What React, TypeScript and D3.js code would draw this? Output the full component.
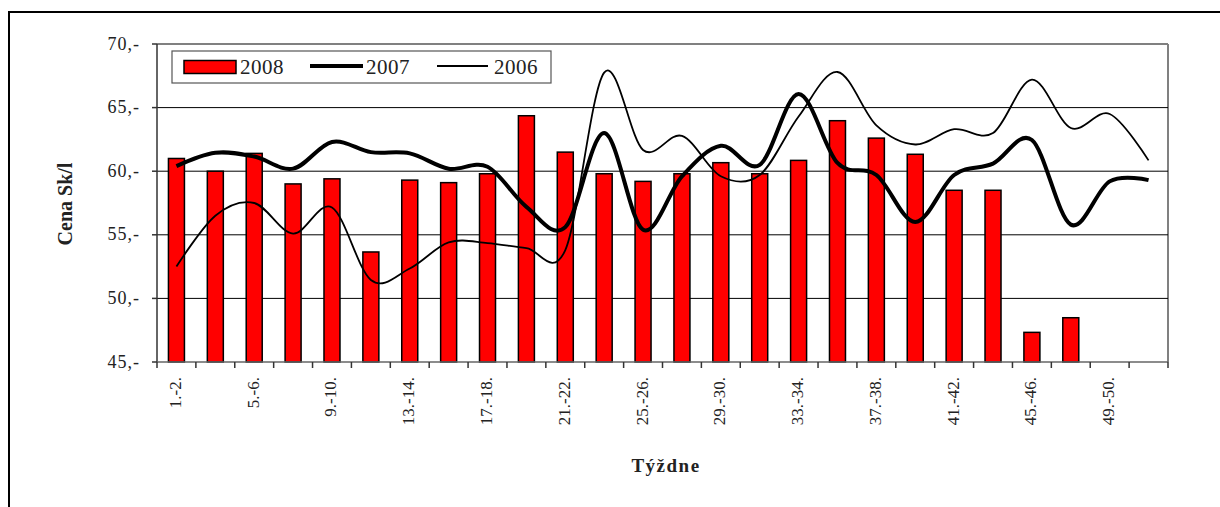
import React from "react";
import * as d3 from "d3";

const categories = Array.from({ length: 26 }, (_, i) => `${2 * i + 1}.-${2 * i + 2}.`);
const tickLabels = ["45,-", "50,-", "55,-", "60,-", "65,-", "70,-"];
const tickValues = [45, 50, 55, 60, 65, 70];

const values2008: (number | null)[] = [
  61.0, 60.0, 61.4, 59.0, 59.4, 53.65, 59.3, 59.1, 59.8, 64.36, 61.5, 59.8, 59.2,
  59.8, 60.67, 59.8, 60.85, 63.97, 62.6, 61.33, 58.5, 58.5, 47.33, 48.48, null, null,
];
const values2007 = [
  60.4, 61.45, 61.15, 60.2, 62.3, 61.5, 61.4, 60.2, 60.35, 57.2, 55.6, 63.0, 55.4,
  59.6, 62.0, 60.5, 66.07, 60.65, 59.7, 56.0, 59.7, 60.6, 62.45, 55.8, 59.2, 59.3,
];
const values2006 = [
  52.5, 56.5, 57.5, 55.1, 57.15, 51.45, 52.35, 54.4, 54.35, 53.95, 53.8, 67.75, 61.67,
  62.77, 59.6, 59.7, 64.3, 67.8, 63.6, 62.1, 63.3, 63.0, 67.2, 63.4, 64.5, 60.85,
];

const W = 1220;
const H = 507;
const L = 157;
const R = 1168;
const T = 44;
const B = 362;
const FONT = "'Liberation Serif', 'Times New Roman', serif";

export default function App() {
  const x = d3.scaleBand<string>().domain(categories).range([L, R]).padding(0);
  const y = d3.scaleLinear().domain([45, 70]).range([B, T]);
  const bw = 16;
  const cx = (i: number) => (x(categories[i]) as number) + x.bandwidth() / 2;
  const line = d3
    .line<number>()
    .x((_, i) => cx(i))
    .y((d) => y(d))
    .curve(d3.curveCardinal.tension(0));

  return (
    <svg
      width={W}
      height={H}
      style={{ position: "absolute", left: 0, top: 0, background: "#fff" }}
      fontFamily={FONT}
    >
      <rect x={0} y={0} width={W} height={H} fill="#fff" />
      <rect x={9} y={12} width={W + 20} height={H + 20} fill="none" stroke="#000" strokeWidth={2} />
      {/* plot frame */}
      <line x1={L} x2={R} y1={T} y2={T} stroke="#808080" strokeWidth={2} />
      <line x1={R} x2={R} y1={T} y2={B} stroke="#808080" strokeWidth={2} />
      {/* grid */}
      {tickValues.slice(1, 5).map((v) => (
        <line key={v} x1={L} x2={R} y1={y(v)} y2={y(v)} stroke="#000" strokeWidth={1} />
      ))}
      {/* bars */}
      {values2008.map((v, i) =>
        v == null ? null : (
          <rect
            key={i}
            x={cx(i) - bw / 2}
            y={y(v)}
            width={bw}
            height={B - y(v)}
            fill="#ff0000"
            stroke="#000"
            strokeWidth={1.5}
          />
        )
      )}
      {/* lines */}
      <path d={line(values2006) || ""} fill="none" stroke="#000" strokeWidth={1.8} />
      <path d={line(values2007) || ""} fill="none" stroke="#000" strokeWidth={4} />
      {/* axes */}
      <line x1={L} x2={L} y1={T} y2={B} stroke="#333" strokeWidth={1.5} />
      <line x1={L} x2={R} y1={B} y2={B} stroke="#666" strokeWidth={1.5} />
      {tickValues.map((v, i) => (
        <g key={v}>
          <line x1={L - 5} x2={L} y1={y(v)} y2={y(v)} stroke="#333" strokeWidth={1.5} />
          <text x={140} y={y(v) + 5.5} textAnchor="end" fontSize={18} letterSpacing={1} fill="#222">
            {tickLabels[i]}
          </text>
        </g>
      ))}
      {d3.range(27).map((i) => {
        const xx = L + i * x.bandwidth();
        return <line key={i} x1={xx} x2={xx} y1={B} y2={B + 6} stroke="#333" strokeWidth={1.5} />;
      })}
      {categories.map((c, i) =>
        i % 2 === 0 ? (
          <text
            key={c}
            transform={`translate(${cx(i) + 4.5},${377}) rotate(-90)`}
            textAnchor="end"
            fontSize={17}
            fill="#222"
          >
            {c}
          </text>
        ) : null
      )}
      {/* axis titles */}
      <text
        transform={`translate(72,${(T + B) / 2 + 1}) rotate(-90)`}
        textAnchor="middle"
        fontSize={20}
        fontWeight="bold"
        fill="#222"
      >
        Cena Sk/l
      </text>
      <text x={666} y={472} textAnchor="middle" fontSize={19} fontWeight="bold" letterSpacing={1.5} fill="#222">
        Týždne
      </text>
      {/* legend */}
      <rect x={172} y={51} width={379} height={32} fill="#fff" stroke="#555" strokeWidth={1.2} />
      <rect x={184} y={60.5} width={52} height={13} fill="#ff0000" stroke="#000" strokeWidth={1.5} />
      <text x={240} y={74} fontSize={21} fill="#222" letterSpacing={0.5}>2008</text>
      <line x1={310} x2={363} y1={66} y2={66} stroke="#000" strokeWidth={4} />
      <text x={366} y={74} fontSize={21} fill="#222" letterSpacing={0.5}>2007</text>
      <line x1={437} x2={488} y1={66} y2={66} stroke="#000" strokeWidth={1.8} />
      <text x={494} y={74} fontSize={21} fill="#222" letterSpacing={0.5}>2006</text>
    </svg>
  );
}
